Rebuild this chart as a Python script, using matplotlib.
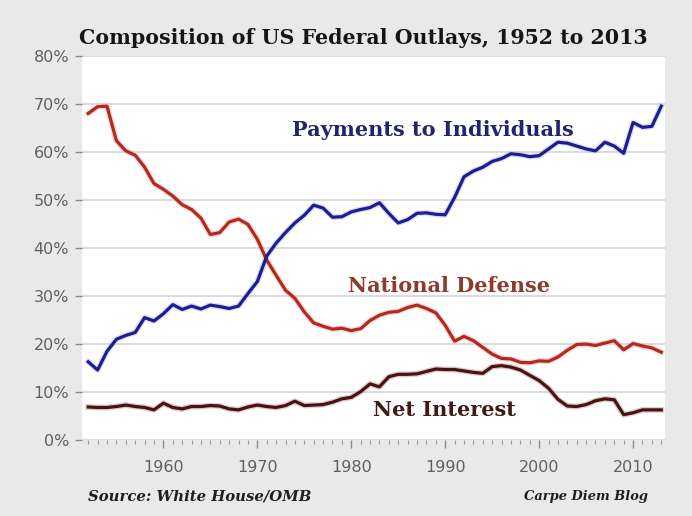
"""Composition of US federal outlays by category, 1952 to 2013."""

import matplotlib

matplotlib.use("Agg")
import matplotlib.pyplot as plt
from matplotlib.ticker import FuncFormatter, MultipleLocator


YEARS = list(range(1952, 2014))

# share of total federal outlays, percent
PAYMENTS_TO_INDIVIDUALS = [
    16.3, 14.6, 18.5, 21.0, 21.8, 22.4, 25.5, 24.8, 26.3, 28.2,
    27.2, 27.9, 27.3, 28.1, 27.8, 27.4, 27.9, 30.5, 33.0, 38.3,
    41.0, 43.2, 45.2, 46.8, 48.9, 48.3, 46.4, 46.5, 47.5, 48.0,
    48.4, 49.4, 47.2, 45.2, 45.9, 47.2, 47.3, 47.0, 46.9, 50.5,
    54.8, 56.0, 56.8, 58.0, 58.6, 59.6, 59.4, 59.0, 59.2, 60.6,
    62.0, 61.8, 61.2, 60.6, 60.2, 62.0, 61.2, 59.7, 66.1, 65.1,
    65.3, 69.5,
]
NATIONAL_DEFENSE = [
    68.0, 69.4, 69.5, 62.3, 60.2, 59.3, 56.8, 53.4, 52.2, 50.8,
    49.0, 48.0, 46.2, 42.8, 43.2, 45.4, 46.0, 44.9, 41.8, 37.5,
    34.3, 31.2, 29.5, 26.7, 24.4, 23.7, 23.1, 23.3, 22.8, 23.2,
    24.9, 26.0, 26.6, 26.8, 27.6, 28.1, 27.4, 26.5, 23.9, 20.6,
    21.6, 20.7, 19.3, 17.9, 17.0, 16.9, 16.2, 16.1, 16.5, 16.4,
    17.3, 18.7, 19.9, 20.0, 19.7, 20.2, 20.7, 18.8, 20.1, 19.6,
    19.2, 18.3,
]
NET_INTEREST = [
    6.9, 6.8, 6.8, 7.0, 7.3, 7.0, 6.8, 6.3, 7.7, 6.8,
    6.5, 7.0, 7.0, 7.2, 7.1, 6.5, 6.3, 6.9, 7.3, 7.0,
    6.8, 7.2, 8.1, 7.2, 7.3, 7.4, 7.9, 8.6, 8.9, 10.1,
    11.7, 11.1, 13.2, 13.7, 13.7, 13.8, 14.3, 14.8, 14.7, 14.7,
    14.4, 14.1, 13.9, 15.3, 15.5, 15.2, 14.6, 13.5, 12.4, 10.8,
    8.5, 7.1, 7.0, 7.4, 8.2, 8.6, 8.4, 5.3, 5.7, 6.3,
    6.3, 6.3,
]

BG = "#e9e9e9"
GRID = "#d6d6d6"
TICK_TEXT = "#606060"
SERIF = ["DejaVu Serif"]


def main() -> None:
    fig = plt.figure(figsize=(6.92, 5.16), dpi=100, facecolor=BG)
    ax = fig.add_axes([0.118, 0.147, 0.843, 0.745])
    ax.set_facecolor("white")

    series = [
        (NET_INTEREST, "#4a1212", "#c9a9a9"),
        (NATIONAL_DEFENSE, "#b3291f", "#f3c0c0"),
        (PAYMENTS_TO_INDIVIDUALS, "#1d1d90", "#c4c4ee"),
    ]
    for values, color, halo in series:
        ax.plot(YEARS, values, color=halo, linewidth=4.2, alpha=0.6,
                solid_joinstyle="round", zorder=2)
        ax.plot(YEARS, values, color=color, linewidth=2.3,
                solid_joinstyle="round", zorder=3)

    ax.set_xlim(1951.3, 2013.4)
    ax.set_ylim(0, 80)
    ax.yaxis.set_major_locator(MultipleLocator(10))
    ax.yaxis.set_major_formatter(FuncFormatter(lambda v, _: f"{v:.0f}%"))
    ax.xaxis.set_major_locator(MultipleLocator(10))
    ax.xaxis.set_minor_locator(MultipleLocator(1))
    ax.grid(axis="y", color=GRID, linewidth=1.2, zorder=1)
    ax.set_axisbelow(True)

    for spine in ax.spines.values():
        spine.set_visible(False)
    ax.tick_params(axis="y", length=5, width=1, color="#8a8a8a",
                   labelcolor=TICK_TEXT, labelsize=11.5, pad=4)
    ax.tick_params(axis="x", which="major", length=6, width=1, color="#8a8a8a",
                   labelcolor=TICK_TEXT, labelsize=11.5, pad=8)
    ax.tick_params(axis="x", which="minor", length=3, width=0.8, color="#9a9a9a")

    ax.text(1973.7, 64.5, "Payments to Individuals", color="#24246e",
            fontsize=15, fontweight="bold", family=SERIF, ha="left", va="center")
    ax.text(1979.7, 32.0, "National Defense", color="#8e3a2c",
            fontsize=15, fontweight="bold", family=SERIF, ha="left", va="center")
    ax.text(1982.3, 6.2, "Net Interest", color="#3d1c14",
            fontsize=15, fontweight="bold", family=SERIF, ha="left", va="center")

    fig.text(0.525, 0.926, "Composition of US Federal Outlays, 1952 to 2013",
             ha="center", va="center", fontsize=14.8, fontweight="bold",
             family=SERIF, color="#151515")
    fig.text(0.127, 0.037, "Source: White House/OMB", ha="left", va="center",
             fontsize=10.7, fontweight="bold", style="italic", family=SERIF,
             color="#1e1e1e")
    fig.text(0.937, 0.037, "Carpe Diem Blog", ha="right", va="center",
             fontsize=9.4, fontweight="bold", style="italic", family=SERIF,
             color="#1e1e1e")

    fig.savefig("out.png", dpi=100, facecolor=BG)
    plt.close(fig)


if __name__ == "__main__":
    main()
